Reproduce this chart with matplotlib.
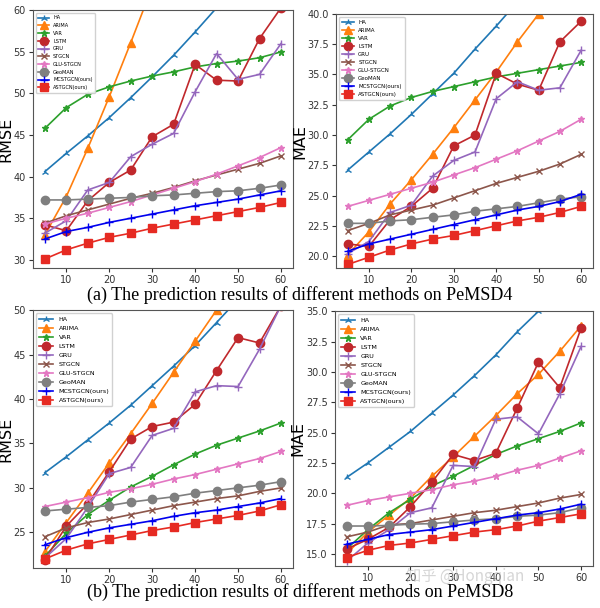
import numpy as np
import matplotlib.pyplot as plt

steps = [5, 10, 15, 20, 25, 30, 35, 40, 45, 50, 55, 60]
methods = ['HA', 'ARIMA', 'VAR', 'LSTM', 'GRU', 'STGCN', 'GLU-STGCN', 'GeoMAN',
           'MCSTGCN(ours)', 'ASTGCN(ours)']

# PeMSD4 RMSE
d4_rmse = {
    'HA': [40.6, 42.8, 44.9, 47.1, 49.5, 52.0, 54.6, 57.4, 60.3, 63.3, 66.4, 69.6],
    'ARIMA': [33.0, 37.6, 43.4, 49.6, 56.1, 62.8, 69.8, 77.0, 84.0, 91.0, 98.0, 105.0],
    'VAR': [45.8, 48.3, 49.9, 50.8, 51.5, 52.1, 52.6, 53.2, 53.6, 53.9, 54.3, 55.0],
    'LSTM': [34.2, 33.5, 37.1, 39.3, 40.8, 44.8, 46.3, 53.5, 51.6, 51.5, 56.6, 60.3],
    'GRU': [33.2, 34.7, 38.4, 39.3, 42.4, 43.9, 45.2, 50.2, 54.8, 51.7, 52.3, 56.0],
    'STGCN': [34.4, 35.3, 36.0, 36.7, 37.4, 38.0, 38.7, 39.5, 40.2, 40.9, 41.6, 42.5],
    'GLU-STGCN': [34.3, 35.0, 35.6, 36.3, 37.0, 37.8, 38.6, 39.4, 40.3, 41.3, 42.3, 43.5],
    'GeoMAN': [37.2, 37.2, 37.3, 37.4, 37.5, 37.7, 37.8, 38.0, 38.2, 38.3, 38.6, 39.0],
    'MCSTGCN(ours)': [32.5, 33.4, 33.9, 34.5, 35.0, 35.5, 36.0, 36.5, 36.9, 37.3, 37.8, 38.3],
    'ASTGCN(ours)': [30.1, 31.2, 32.0, 32.7, 33.2, 33.8, 34.3, 34.8, 35.3, 35.8, 36.3, 36.9],
}

# PeMSD4 MAE
d4_mae = {
    'HA': [27.1, 28.6, 30.1, 31.7, 33.4, 35.1, 37.1, 39.0, 41.0, 43.0, 45.0, 47.0],
    'ARIMA': [20.1, 22.0, 24.3, 26.3, 28.4, 30.6, 32.9, 35.2, 37.7, 40.0, 42.3, 44.6],
    'VAR': [29.6, 31.3, 32.4, 33.1, 33.6, 34.0, 34.4, 34.8, 35.1, 35.4, 35.7, 36.0],
    'LSTM': [21.0, 20.8, 23.0, 24.1, 25.6, 29.1, 30.0, 35.1, 34.2, 33.7, 37.7, 39.4],
    'GRU': [20.2, 21.2, 23.6, 24.2, 26.6, 27.9, 28.6, 33.0, 34.4, 33.7, 33.9, 37.0],
    'STGCN': [22.1, 22.7, 23.4, 23.8, 24.2, 24.8, 25.4, 26.0, 26.5, 27.0, 27.6, 28.4],
    'GLU-STGCN': [24.1, 24.6, 25.1, 25.6, 26.1, 26.7, 27.3, 28.0, 28.7, 29.5, 30.3, 31.3],
    'GeoMAN': [22.7, 22.7, 22.9, 23.0, 23.2, 23.4, 23.7, 23.9, 24.1, 24.4, 24.7, 24.9],
    'MCSTGCN(ours)': [20.4, 21.0, 21.4, 21.8, 22.2, 22.6, 23.0, 23.4, 23.8, 24.1, 24.5, 25.1],
    'ASTGCN(ours)': [19.3, 19.9, 20.5, 21.0, 21.4, 21.7, 22.1, 22.5, 22.9, 23.2, 23.6, 24.1],
}

# PeMSD8 RMSE
d8_rmse = {
    'HA': [31.7, 33.5, 35.4, 37.3, 39.3, 41.5, 43.7, 46.0, 48.6, 51.2, 54.0, 57.0],
    'ARIMA': [22.8, 26.1, 29.4, 32.8, 36.1, 39.5, 43.0, 46.5, 50.0, 53.5, 57.0, 60.5],
    'VAR': [22.3, 24.9, 27.0, 28.6, 30.1, 31.3, 32.6, 33.8, 34.8, 35.6, 36.4, 37.3],
    'LSTM': [21.9, 25.7, 28.2, 31.8, 35.5, 36.9, 37.4, 39.4, 43.2, 46.9, 46.3, 50.5],
    'GRU': [22.1, 24.3, 27.8, 31.6, 32.3, 35.9, 36.7, 40.8, 41.5, 41.4, 45.6, 50.5],
    'STGCN': [24.5, 25.5, 26.1, 26.5, 27.0, 27.5, 28.0, 28.4, 28.8, 29.1, 29.6, 30.0],
    'GLU-STGCN': [27.9, 28.4, 28.9, 29.5, 29.9, 30.4, 31.0, 31.5, 32.1, 32.7, 33.3, 34.1],
    'GeoMAN': [27.4, 27.6, 27.8, 28.0, 28.4, 28.7, 29.0, 29.4, 29.7, 30.0, 30.3, 30.7],
    'MCSTGCN(ours)': [23.6, 24.4, 25.0, 25.5, 25.9, 26.3, 26.8, 27.2, 27.5, 27.9, 28.3, 28.8],
    'ASTGCN(ours)': [22.0, 23.0, 23.7, 24.2, 24.7, 25.2, 25.6, 26.1, 26.5, 26.9, 27.4, 28.1],
}

# PeMSD8 MAE
d8_mae = {
    'HA': [21.3, 22.5, 23.8, 25.1, 26.6, 28.1, 29.7, 31.4, 33.3, 35.0, 37.0, 39.0],
    'ARIMA': [15.0, 16.8, 18.2, 19.6, 21.4, 23.0, 24.7, 26.4, 28.2, 29.8, 31.7, 33.8],
    'VAR': [15.4, 17.0, 18.4, 19.5, 20.6, 21.4, 22.3, 23.2, 23.9, 24.5, 25.1, 25.8],
    'LSTM': [15.4, 16.2, 17.2, 18.9, 20.9, 23.2, 22.7, 23.3, 27.0, 30.8, 28.7, 33.6],
    'GRU': [14.4, 15.9, 17.0, 18.4, 18.8, 22.3, 22.2, 26.1, 26.3, 24.9, 28.2, 32.1],
    'STGCN': [16.4, 16.8, 17.4, 17.5, 17.8, 18.1, 18.4, 18.6, 18.9, 19.2, 19.6, 19.9],
    'GLU-STGCN': [19.0, 19.4, 19.7, 20.0, 20.3, 20.7, 21.0, 21.4, 21.9, 22.3, 22.9, 23.5],
    'GeoMAN': [17.3, 17.3, 17.35, 17.45, 17.5, 17.65, 17.8, 17.9, 18.1, 18.2, 18.4, 18.8],
    'MCSTGCN(ours)': [15.8, 16.2, 16.6, 16.8, 17.0, 17.3, 17.6, 17.9, 18.2, 18.4, 18.7, 19.1],
    'ASTGCN(ours)': [14.7, 15.3, 15.7, 15.9, 16.2, 16.5, 16.8, 17.0, 17.3, 17.7, 18.0, 18.3],
}

styles = {
    'HA': ('#1f77b4', '2', 5),
    'ARIMA': ('#ff7f0e', '^', 6),
    'VAR': ('#2ca02c', '*', 5),
    'LSTM': ('#c0282c', 'o', 6),
    'GRU': ('#9467bd', '+', 6),
    'STGCN': ('#8c564b', 'x', 5),
    'GLU-STGCN': ('#e377c2', '*', 5),
    'GeoMAN': ('#7f7f7f', 'o', 6),
    'MCSTGCN(ours)': ('#0000ee', '+', 6),
    'ASTGCN(ours)': ('#e62a22', 's', 6),
}

fig = plt.figure(figsize=(6.0, 6.08), dpi=100)

# data, ylabel, ylim, axes rect, yticks, ylabel x (axes coords), legend font
panels = [
    (d4_rmse, 'RMSE', (29, 60), [0.055, 0.559, 0.433, 0.424], None, -0.074, 3.6),
    (d4_mae, 'MAE', (19, 40), [0.560, 0.559, 0.428, 0.418],
     [20.0, 22.5, 25.0, 27.5, 30.0, 32.5, 35.0, 37.5, 40.0], -0.112, 4.0),
    (d8_rmse, 'RMSE', (21, 50), [0.055, 0.066, 0.433, 0.424], None, -0.074, 4.6),
    (d8_mae, 'MAE', (14, 35), [0.558, 0.069, 0.430, 0.419],
     [15.0, 17.5, 20.0, 22.5, 25.0, 27.5, 30.0, 32.5, 35.0], -0.115, 4.6),
]

for data, ylab, ylim, rect, yt, lx, lfs in panels:
    ax = fig.add_axes(rect)
    for m in methods:
        c, mk, ms = styles[m]
        ax.plot(steps, data[m], color=c, marker=mk, markersize=ms, linewidth=1.2,
                label=m)
    ax.set_ylim(*ylim)
    ax.set_xticks([10, 20, 30, 40, 50, 60])
    if yt is not None:
        ax.set_yticks(yt)
    ax.tick_params(labelsize=7, colors='#333333', length=3, pad=2)
    for s in ax.spines.values():
        s.set_color('#555555')
    ax.set_ylabel(ylab, fontsize=11.5)
    ax.yaxis.set_label_coords(lx, 0.5)
    ax.legend(loc='upper left', fontsize=lfs, handlelength=2.2, labelspacing=0.55,
              borderpad=0.5, framealpha=0.9, edgecolor='#cccccc')

fig.text(0.5, 0.515, '(a) The prediction results of different methods on PeMSD4',
         ha='center', va='center', fontsize=13, family='Liberation Serif')
fig.text(0.5, 0.026, '(b) The prediction results of different methods on PeMSD8',
         ha='center', va='center', fontsize=13, family='Liberation Serif')
fig.text(0.775, 0.052, '知乎 @Hongqian', ha='center', va='center', fontsize=11,
         color='#bbbbbb', alpha=0.6, family=['Noto Sans CJK SC', 'DejaVu Sans'])

fig.savefig('out.png', dpi=100)
